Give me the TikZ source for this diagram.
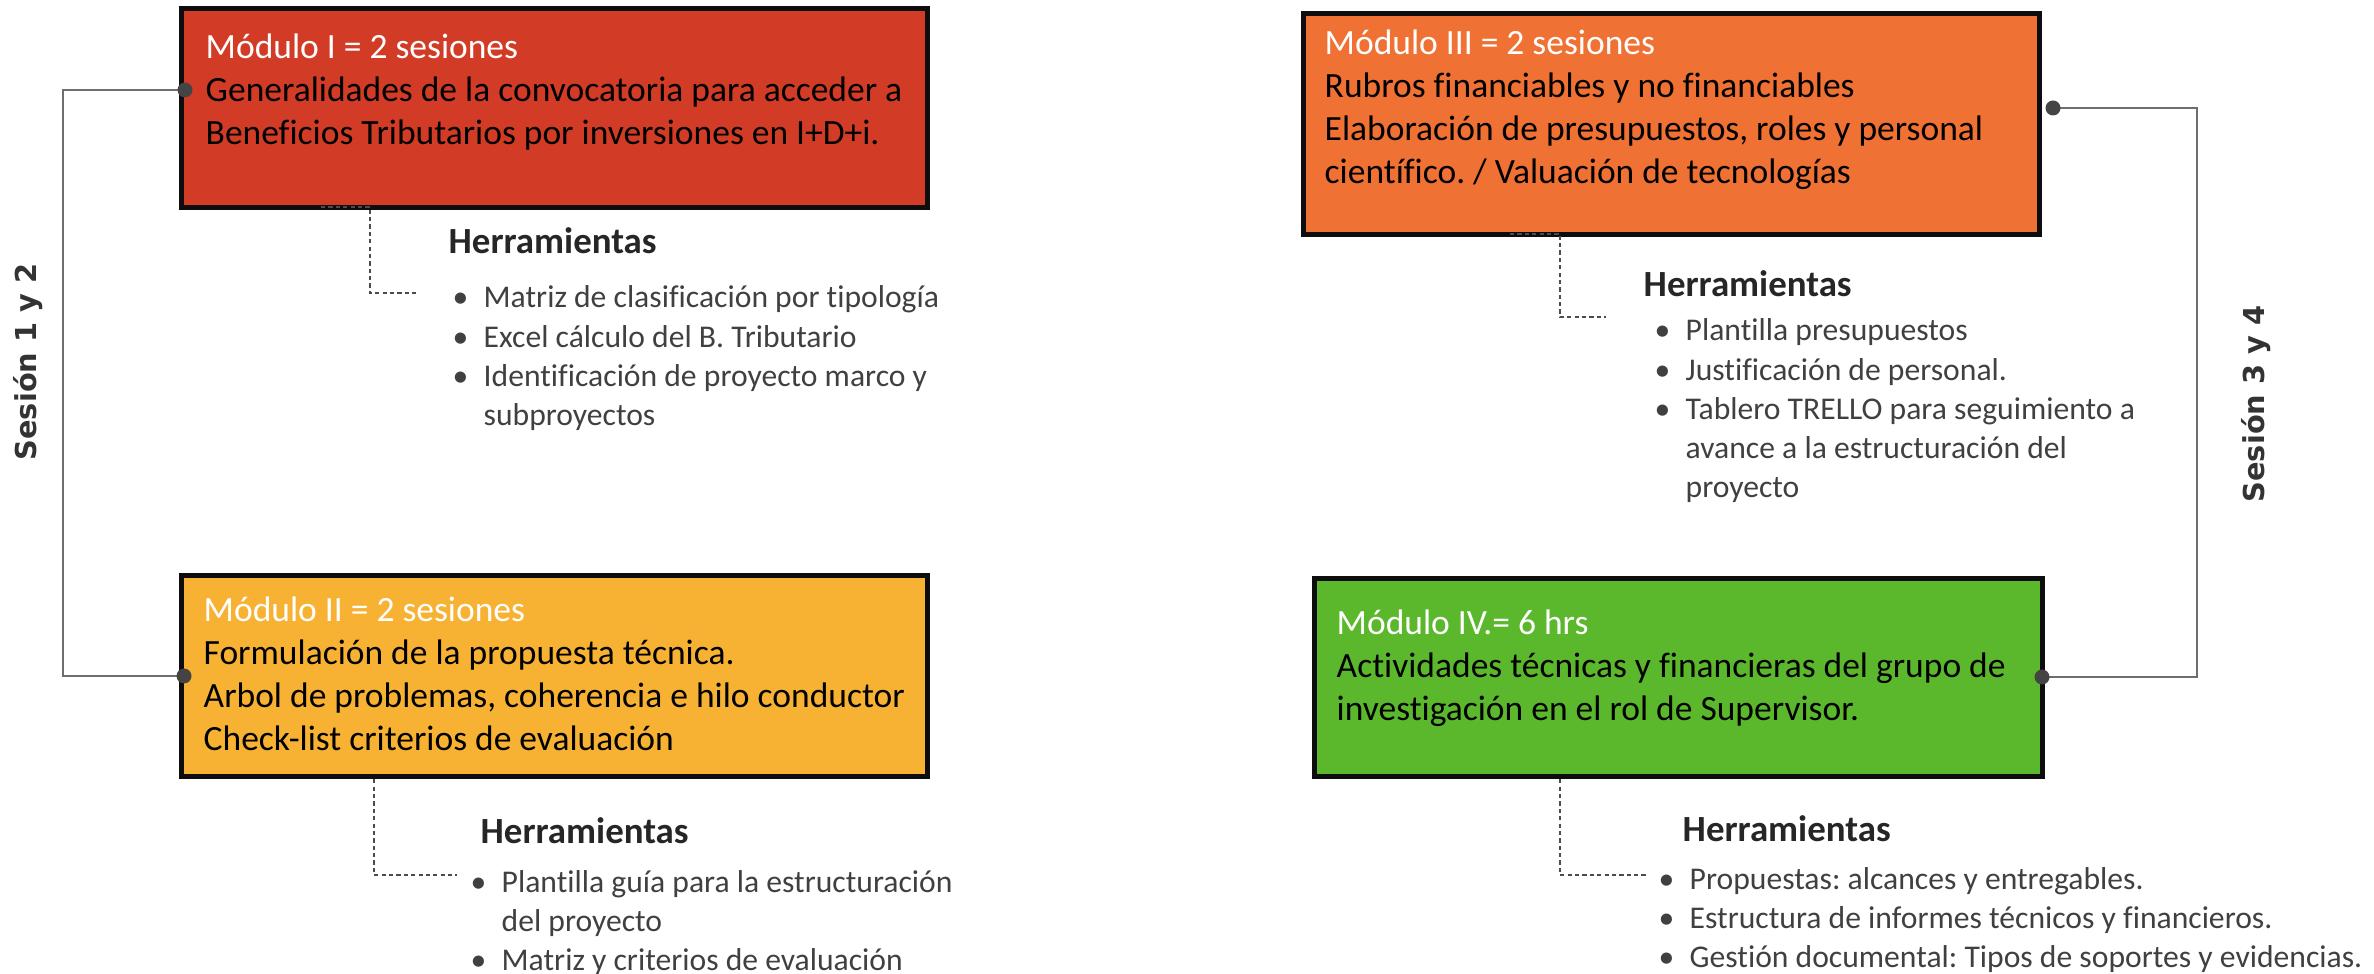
\documentclass[tikz,border=0pt]{standalone}
\usepackage{fontspec}
\setmainfont{Carlito}[Ligatures=NoCommon]
\newfontfamily\sesfont{DejaVu Sans}
\frenchspacing

\definecolor{modred}{RGB}{210,60,39}
\definecolor{modyellow}{RGB}{247,178,51}
\definecolor{modorange}{RGB}{240,113,52}
\definecolor{modgreen}{RGB}{91,184,44}
\definecolor{linkgray}{RGB}{110,110,110}
\definecolor{jointgray}{RGB}{68,68,68}
\definecolor{tooltext}{RGB}{64,64,64}

\newcommand{\textrows}[1]{\begin{tabular}[t]{@{}l@{}}#1\end{tabular}}
\newcommand{\bul}{\makebox[0.31cm][l]{\textbullet}}
\newcommand{\cont}{\makebox[0.31cm]{}}

\tikzset{
  modbox/.style={draw=black!95, line width=1.5pt, anchor=north west, inner sep=0pt},
  modtext/.style={anchor=base west, inner sep=0pt, font=\fontsize{10.1}{12.2}\selectfont},
  tooltitle/.style={anchor=base west, inner sep=0pt, text=black!85, font=\fontsize{10.5}{12.6}\selectfont\bfseries},
  toollist/.style={anchor=base west, inner sep=0pt, text=tooltext, font=\fontsize{9}{11.1}\selectfont},
  sesion/.style={rotate=90, inner sep=0pt, text=black!80, font=\sesfont\bfseries\fontsize{8.2}{10}\selectfont},
  link/.style={draw=linkgray, line width=0.45pt},
  toollink/.style={draw=black!70, line width=0.45pt, dash pattern=on 1.2pt off 0.9pt},
  joint/.style={circle, fill=jointgray, inner sep=0pt, minimum size=0.15cm},
}

\begin{document}
\begin{tikzpicture}
\useasboundingbox (0,0) rectangle (23.740000,9.730000);

% Drawing module boxes
\node [modbox, fill=modred, minimum width=7.46cm, minimum height=1.99cm] (box1) at (1.790000,9.670000) {};%
\node [modbox, fill=modyellow, minimum width=7.46cm, minimum height=2.01cm] (box2) at (1.790000,4.000000) {};%
\node [modbox, fill=modorange, minimum width=7.36cm, minimum height=2.21cm] (box3) at (13.010000,9.620000) {};%
\node [modbox, fill=modgreen, minimum width=7.28cm, minimum height=1.98cm] (box4) at (13.120000,3.970000) {};%

% Marking joints on the boxes
\coordinate (jt1) at (1.850000,8.830000);
\coordinate (jt2) at (1.840000,2.970000);
\coordinate (jt3) at (20.530000,8.650000);
\coordinate (jt4) at (20.420000,2.960000);

% Drawing session links
\coordinate (busL) at (0.630000,5.000000);
\coordinate (busR) at (21.970000,5.000000);
\draw [link] (jt1) -- (jt1 -| busL) -- (jt2 -| busL) -- (jt2);%
\draw [link] (jt3) -- (jt3 -| busR) -- (jt4 -| busR) -- (jt4);%

\node [joint] (dot1) at (jt1) {};%
\node [joint] (dot2) at (jt2) {};%
\node [joint] (dot3) at (jt3) {};%
\node [joint] (dot4) at (jt4) {};%

% Drawing tool links
\coordinate (knee1) at (3.700000,6.800000);
\coordinate (knee2) at (3.740000,0.980000);
\coordinate (knee3) at (15.600000,6.560000);
\coordinate (knee4) at (15.600000,0.980000);
\coordinate (end1) at (4.170000,6.800000);
\coordinate (end2) at (4.570000,0.980000);
\coordinate (end3) at (16.060000,6.560000);
\coordinate (end4) at (16.460000,0.980000);
\draw [toollink] (3.210000,7.660000) -- (3.700000,7.660000) -- (knee1) -- (end1);%
\draw [toollink] (box2.south -| knee2) -- (knee2) -- (end2);%
\draw [toollink] (15.100000,7.390000) -- (15.600000,7.390000) -- (knee3) -- (end3);%
\draw [toollink] (box4.south -| knee4) -- (knee4) -- (end4);%

% Module texts
\node [modtext] (desc1) at (2.050000,9.140000) {\textrows{\textcolor{white}{Módulo I = 2 sesiones}\\Generalidades de la convocatoria para acceder a\\Beneficios Tributarios por inversiones en I+D+i.}};%
\node [modtext] (desc2) at (2.030000,3.510000) {\textrows{\textcolor{white}{Módulo II = 2 sesiones}\\Formulación de la propuesta técnica.\\Arbol de problemas, coherencia e hilo conductor\\Check-list criterios de evaluación}};%
\node [modtext] (desc3) at (13.240000,9.180000) {\textrows{\textcolor{white}{Módulo III = 2 sesiones}\\Rubros financiables y no financiables\\Elaboración de presupuestos, roles y personal\\científico. / Valuación de tecnologías}};%
\node [modtext] (desc4) at (13.360000,3.380000) {\textrows{\textcolor{white}{Módulo IV.= 6 hrs}\\Actividades técnicas y financieras del grupo de\\investigación en el rol de Supervisor.}};%

% Tool titles
\node [tooltitle] (tools1) at (4.480000,7.190000) {Herramientas};%
\node [tooltitle] (tools2) at (4.800000,1.300000) {Herramientas};%
\node [tooltitle] (tools3) at (16.430000,6.760000) {Herramientas};%
\node [tooltitle] (tools4) at (16.820000,1.320000) {Herramientas};%

% Tool lists
\node [toollist] (list1) at (4.520000,6.650000) {\textrows{\bul Matriz de clasificación por tipología\\\bul Excel cálculo del B. Tributario\\\bul Identificación de proyecto marco y\\\cont subproyectos}};%
\node [toollist] (list2) at (4.700000,0.810000) {\textrows{\bul Plantilla guía para la estructuración\\\cont del proyecto\\\bul Matriz y criterios de evaluación}};%
\node [toollist] (list3) at (16.540000,6.320000) {\textrows{\bul Plantilla presupuestos\\\bul Justificación de personal.\\\bul Tablero TRELLO para seguimiento a\\\cont avance a la estructuración del\\\cont proyecto}};%
\node [toollist] (list4) at (16.580000,0.840000) {\textrows{\bul Propuestas: alcances y entregables.\\\bul Estructura de informes técnicos y financieros.\\\bul Gestión documental: Tipos de soportes y evidencias.}};%

% Session labels
\node [sesion] (ses12) at (0.280000,6.110000) {Sesión 1 y 2};%
\node [sesion] (ses34) at (22.560000,5.690000) {Sesión 3 y 4};%
\end{tikzpicture}
\end{document}
